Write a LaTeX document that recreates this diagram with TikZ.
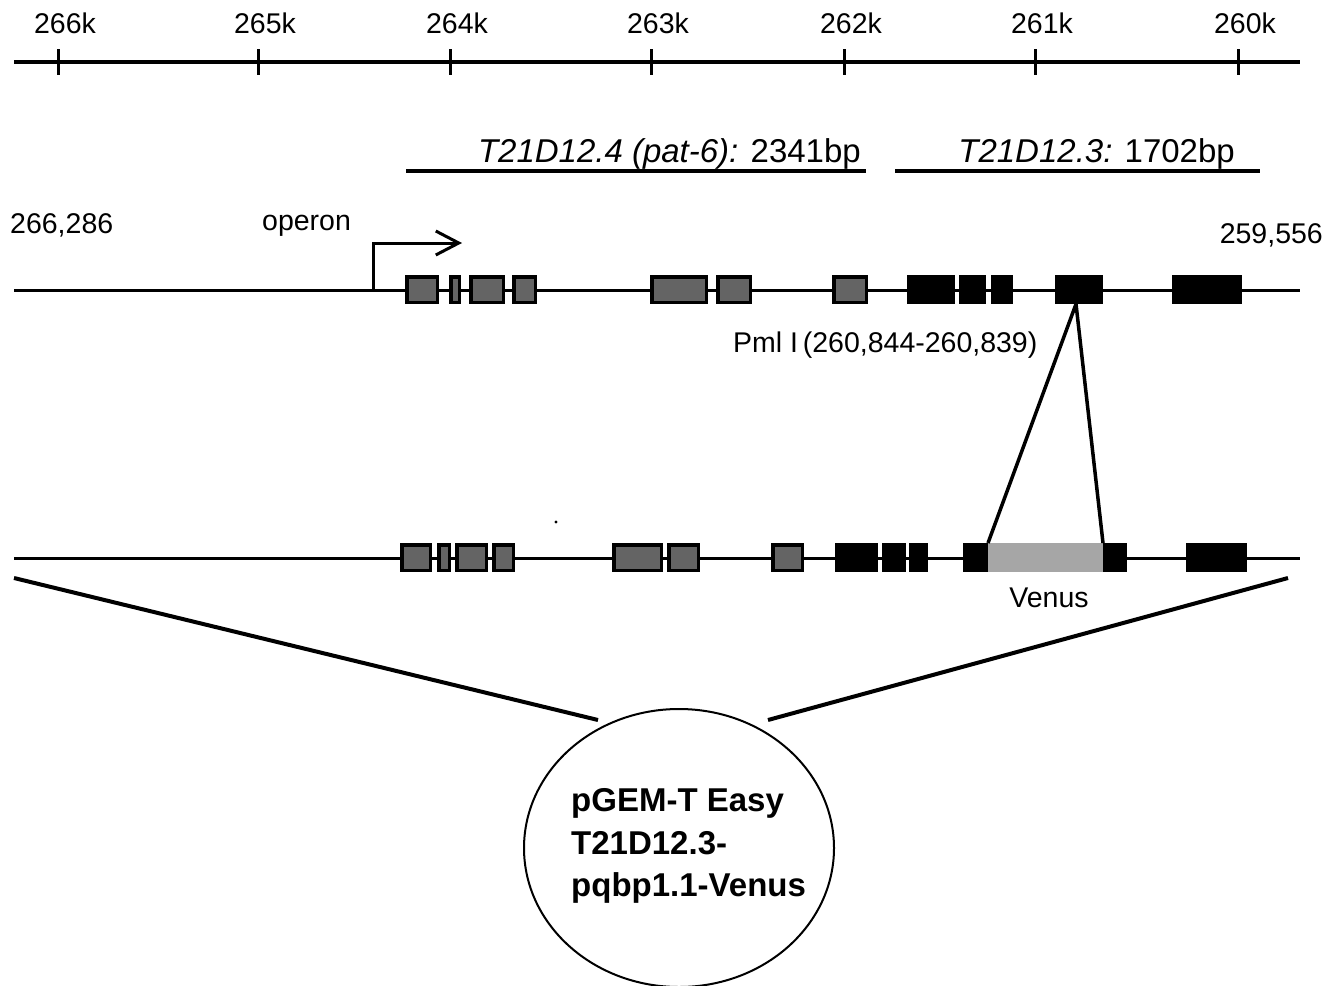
\documentclass[tikz,border=0pt]{standalone}
\usepackage{fontspec}
\setmainfont{Liberation Sans}
\usetikzlibrary{shapes.geometric,arrows.meta}
\definecolor{exongray}{RGB}{100,100,100}
\definecolor{venusgray}{RGB}{166,166,166}
\begin{document}
\begin{tikzpicture}[x=1pt,y=-1pt,
  lbl/.style={inner sep=0pt,font=\fontsize{28.5}{34}\selectfont},
  genelbl/.style={inner sep=0pt,font=\fontsize{33}{39}\selectfont},
  axisline/.style={line width=4pt},
  tickline/.style={line width=3pt},
  dna/.style={line width=3pt},
  genebar/.style={line width=4pt},
  grayexon/.style={draw=black,fill=exongray,line width=3.5pt},
  blackexon/.style={fill=black},
  venusbox/.style={fill=venusgray},
  insertline/.style={line width=3.5pt,line join=round},
  diag/.style={line width=4pt},
  vector/.style={draw,ellipse,line width=2pt,minimum width=310pt,minimum height=278pt,inner sep=0pt},
  vectortext/.style={inner sep=0pt,align=left,font=\fontsize{33}{42.5}\selectfont\bfseries},
  tssarrow/.style={line width=3pt,-{Straight Barb[length=23pt,width=24pt,line width=3pt]}}
]
\useasboundingbox (0,0) rectangle (1335,985);

% scale
\coordinate (axL) at (14,62);
\coordinate (axR) at (1300,62);
\draw[axisline] (axL) -- (axR);
\foreach \t/\l in {58/266k,258/265k,450/264k,651/263k,844/262k,1035/261k,1238/260k}{
  \draw[tickline] (\t,49) -- (\t,75);
  \node[lbl,anchor=base] (s\l) at ({\t+7},33) {\l};
}

% gene bars and labels
\coordinate (g4a) at (406,171); \coordinate (g4b) at (866,171);
\coordinate (g3a) at (895,171); \coordinate (g3b) at (1260,171);
\draw[genebar] (g4a) -- (g4b);
\draw[genebar] (g3a) -- (g3b);
\node[genelbl,anchor=base east] (lab4) at (861,162) {\textit{T21D12.4 (pat-6):} 2341bp};
\node[genelbl,anchor=base east] (lab3) at (1235,162) {\textit{T21D12.3:} 1702bp};

% coordinates text
\node[lbl,anchor=base west] (startpos) at (10,233) {266,286};
\node[lbl,anchor=base west] (operon) at (262,230) {operon};
\node[lbl,anchor=base east] (endpos) at (1323,243) {259,556};

% genomic line 1
\coordinate (l1a) at (14,290); \coordinate (l1b) at (1300,290);
\draw[dna] (l1a) -- (l1b);
\coordinate (tss) at (373,290);
\coordinate (tsstip) at (462,243);
\draw[tssarrow] (tss) |- (tsstip);
\foreach \a/\b in {405/439,449/461,469/505,512/537,650/708,716/752,832/868}{
  \draw[grayexon] ({\a+1.75},276.75) rectangle ({\b-1.75},302.25);
}
\foreach \a/\b in {907/955,959/986,991/1013,1055/1103,1172/1242}{
  \fill[blackexon] (\a,275) rectangle (\b,304);
}
\node[lbl,anchor=base west] (pml) at (733,352) {Pml I\,(260,844-260,839)};
\coordinate (pmlsite) at (1076,304);

% genomic line 2
\coordinate (l2a) at (14,558); \coordinate (l2b) at (1300,558);
\draw[dna] (l2a) -- (l2b);
\foreach \a/\b in {400/432,437/451,455/488,492/515,612/663,667/700,771/804}{
  \draw[grayexon] ({\a+1.75},544.75) rectangle ({\b-1.75},570.25);
}
\foreach \a/\b in {835/878,882/906,909/928,963/988,1103/1127,1186/1247}{
  \fill[blackexon] (\a,543) rectangle (\b,572);
}
\fill[venusbox] (988,543) rectangle (1103,572);
\coordinate (venusL) at (988,543);
\coordinate (venusR) at (1103,543);
\node[lbl,anchor=base] (venus) at (1049,607) {Venus};
\draw[insertline] (venusL) -- (pmlsite) -- (venusR);
\fill (556,522) circle (1.6);

% vector
\node[vector] (vec) at (679,848) {};
\node[vectortext,anchor=west] (vectxt) at (571,846) {pGEM-T Easy\\T21D12.3-\\pqbp1.1-Venus};
\coordinate (dl1) at (14,578); \coordinate (dl2) at (598,720);
\coordinate (dr1) at (1288,578); \coordinate (dr2) at (768,720);
\draw[diag] (dl1) -- (dl2);
\draw[diag] (dr1) -- (dr2);
\end{tikzpicture}
\end{document}
